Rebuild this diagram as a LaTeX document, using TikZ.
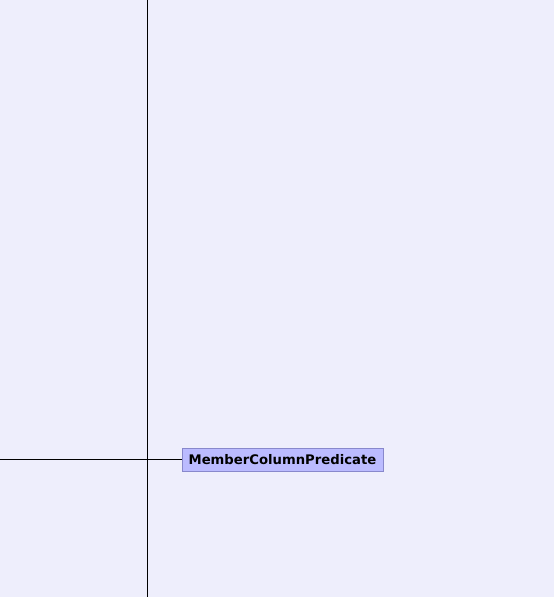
\documentclass[tikz,border=0pt]{standalone}
\usepackage{fontspec}
\setmainfont{DejaVu Sans}
\definecolor{bg}{RGB}{238,238,252}
\definecolor{nodefill}{RGB}{187,187,255}
\definecolor{nodeborder}{RGB}{136,136,204}
\tikzset{
  cls/.style={draw=nodeborder, fill=nodefill, line width=0.8pt, minimum width=201pt, minimum height=23pt, inner sep=0pt, font=\bfseries\fontsize{13.2}{15}\selectfont},
  wire/.style={draw=black, line width=1pt}
}
\begin{document}
\begin{tikzpicture}[x=1pt,y=-1pt]
\fill[bg] (0,0) rectangle (554,597);
\useasboundingbox (0,0) rectangle (554,597);
\coordinate (vtop) at (147.5,0);
\coordinate (vbot) at (147.5,597);
\coordinate (hleft) at (0,459.5);
\node[cls] (mcp) at (282.5,459.5) {MemberColumnPredicate};
\draw[wire] (vtop) -- (vbot);
\draw[wire] (hleft) -- (mcp.west);
\end{tikzpicture}
\end{document}
